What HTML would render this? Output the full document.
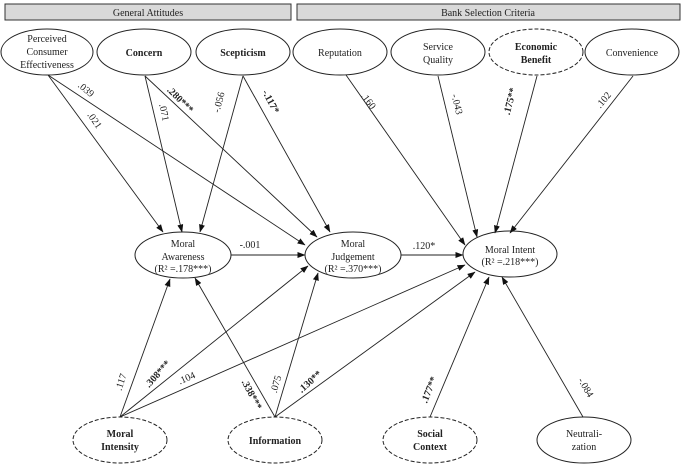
<!DOCTYPE html>
<html><head><meta charset="utf-8"><style>
html,body{margin:0;padding:0;background:#fff;}
svg{display:block;font-family:"Liberation Serif",serif;}
text{font-size:10px;fill:#222;}
.b{font-weight:bold;}
</style></head><body>
<svg width="685" height="468" viewBox="0 0 685 468" xmlns="http://www.w3.org/2000/svg">
<defs><marker id="a" markerWidth="8" markerHeight="6" refX="7.5" refY="3" orient="auto" markerUnits="userSpaceOnUse"><path d="M0,0 L8,3 L0,6 z" fill="#111"/></marker></defs>
<rect x="5" y="4" width="286" height="16" fill="#d9d9d9" stroke="#333"/>
<text x="148" y="16" text-anchor="middle">General Attitudes</text>
<rect x="297" y="4" width="383" height="16" fill="#d9d9d9" stroke="#333"/>
<text x="488" y="16" text-anchor="middle">Bank Selection Criteria</text>
<g fill="none" stroke="#222" stroke-width="1">
<ellipse cx="47" cy="52" rx="46" ry="23"/>
<ellipse cx="144" cy="52" rx="47" ry="23"/>
<ellipse cx="243" cy="52" rx="47" ry="23"/>
<ellipse cx="340" cy="52" rx="47" ry="23"/>
<ellipse cx="438" cy="52" rx="47" ry="23"/>
<ellipse cx="536" cy="52" rx="47" ry="23" stroke-dasharray="4,2"/>
<ellipse cx="632" cy="52" rx="47" ry="23"/>
<ellipse cx="183" cy="255" rx="48" ry="23"/>
<ellipse cx="353" cy="255" rx="48" ry="23"/>
<ellipse cx="510" cy="254" rx="47" ry="23"/>
<ellipse cx="120" cy="440" rx="47" ry="23" stroke-dasharray="4,2"/>
<ellipse cx="275" cy="440" rx="47" ry="23" stroke-dasharray="4,2"/>
<ellipse cx="430" cy="440" rx="47" ry="23" stroke-dasharray="4,2"/>
<ellipse cx="584" cy="440" rx="47" ry="23"/>
</g>
<g stroke="#222" stroke-width="0.9" marker-end="url(#a)">
<line x1="48" y1="75" x2="163" y2="232"/>
<line x1="48" y1="75" x2="305" y2="245"/>
<line x1="145" y1="76" x2="182" y2="232"/>
<line x1="145" y1="76" x2="317" y2="237"/>
<line x1="243" y1="76" x2="200" y2="232"/>
<line x1="243" y1="76" x2="330" y2="232"/>
<line x1="346" y1="75" x2="465" y2="245"/>
<line x1="438" y1="76" x2="477" y2="237"/>
<line x1="537" y1="76" x2="495" y2="233"/>
<line x1="633" y1="76" x2="510" y2="233"/>
<line x1="231" y1="255" x2="305" y2="255"/>
<line x1="401" y1="255" x2="463" y2="255"/>
<line x1="120" y1="417" x2="170" y2="279"/>
<line x1="120" y1="417" x2="308" y2="266"/>
<line x1="120" y1="417" x2="465" y2="265"/>
<line x1="275" y1="417" x2="195" y2="278"/>
<line x1="275" y1="417" x2="318" y2="273"/>
<line x1="275" y1="417" x2="475" y2="272"/>
<line x1="430" y1="417" x2="489" y2="277"/>
<line x1="583" y1="417" x2="502" y2="277"/>
</g>
<text x="47" y="42" text-anchor="middle">Perceived</text>
<text x="47" y="55" text-anchor="middle">Consumer</text>
<text x="47" y="68" text-anchor="middle">Effectiveness</text>
<text x="144" y="56" text-anchor="middle" class="b">Concern</text>
<text x="243" y="56" text-anchor="middle" class="b">Scepticism</text>
<text x="340" y="56" text-anchor="middle">Reputation</text>
<text x="438" y="50" text-anchor="middle">Service</text>
<text x="438" y="63" text-anchor="middle">Quality</text>
<text x="536" y="50" text-anchor="middle" class="b">Economic</text>
<text x="536" y="63" text-anchor="middle" class="b">Benefit</text>
<text x="632" y="56" text-anchor="middle">Convenience</text>
<text x="183" y="247" text-anchor="middle">Moral</text>
<text x="183" y="260" text-anchor="middle">Awareness</text>
<text x="183" y="272" text-anchor="middle">(R² =.178***)</text>
<text x="353" y="247" text-anchor="middle">Moral</text>
<text x="353" y="260" text-anchor="middle">Judgement</text>
<text x="353" y="272" text-anchor="middle">(R² =.370***)</text>
<text x="510" y="253" text-anchor="middle">Moral Intent</text>
<text x="510" y="265" text-anchor="middle">(R² =.218***)</text>
<text x="120" y="437" text-anchor="middle" class="b">Moral</text>
<text x="120" y="450" text-anchor="middle" class="b">Intensity</text>
<text x="275" y="444" text-anchor="middle" class="b">Information</text>
<text x="430" y="437" text-anchor="middle" class="b">Social</text>
<text x="430" y="450" text-anchor="middle" class="b">Context</text>
<text x="584" y="437" text-anchor="middle">Neutrali-</text>
<text x="584" y="450" text-anchor="middle">zation</text>
<text x="250" y="248" text-anchor="middle">-.001</text>
<text x="424" y="249" text-anchor="middle">.120*</text>
<g text-anchor="middle">
<text transform="translate(84,92) rotate(40)">.039</text>
<text transform="translate(92,122) rotate(55)">.021</text>
<text transform="translate(161,113) rotate(78)">.071</text>
<text class="b" transform="translate(178,102) rotate(45)">.280***</text>
<text transform="translate(222,103) rotate(-75)">-.056</text>
<text class="b" transform="translate(268,103) rotate(62)">-.117*</text>
<text transform="translate(366,103) rotate(52)">.160</text>
<text transform="translate(454,105) rotate(76)">-.043</text>
<text class="b" transform="translate(513,102) rotate(-76)">.175**</text>
<text transform="translate(606,102) rotate(-50)">.102</text>
<text transform="translate(124,383) rotate(-72)">.117</text>
<text class="b" transform="translate(160,376) rotate(-48)">.308***</text>
<text transform="translate(188,381) rotate(-24)">.104</text>
<text class="b" transform="translate(249,396) rotate(62)">.338***</text>
<text transform="translate(279,385) rotate(-74)">.075</text>
<text class="b" transform="translate(312,384) rotate(-42)">.130**</text>
<text class="b" transform="translate(432,391) rotate(-68)">.177**</text>
<text transform="translate(583,389) rotate(60)">-.084</text>
</g>
</svg>
</body></html>
